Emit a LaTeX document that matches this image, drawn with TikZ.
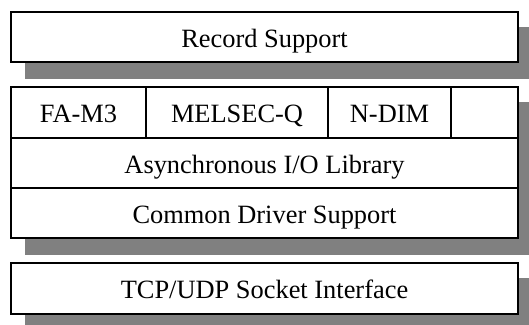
\documentclass[tikz,border=0pt]{standalone}
\usepackage{fontspec}
\setmainfont{Liberation Serif}
\usepackage{tikz}
\usetikzlibrary{calc}
\usetikzlibrary{backgrounds}
\definecolor{shadowgray}{RGB}{128,128,128}

\begin{document}
\begin{tikzpicture}[x=1pt,y=-1pt,font=\fontsize{26.4}{26.4}\selectfont,
  cell/.style={draw,line width=1.6pt,fill=white,inner sep=0pt,minimum height=50.5pt,text height=22pt,text depth=2pt},
  wide/.style={cell,minimum width=507pt},
  drop/.style={fill=shadowgray}]
\useasboundingbox (0,0) rectangle (529,324);
\path (264.5,37) node(record) [wide] {Record Support};
\path (78.5,112.5) node(fam3) [cell,minimum width=135pt] {FA-M3};
\path (237,112.5) node(melsec) [cell,minimum width=182pt] {MELSEC-Q};
\path (389.5,112.5) node(ndim) [cell,minimum width=123pt] {N-DIM};
\path (484.5,112.5) node(spare) [cell,minimum width=67pt] {};
\path (264.5,163) node(asyncio) [wide] {Asynchronous I/O Library};
\path (264.5,213) node(common) [wide] {Common Driver Support};
\path (264.5,288.5) node(socket) [wide] {TCP/UDP Socket Interface};
% shadows behind the layers
\begin{scope}[on background layer]
\fill[drop] ($(record.north west)+(15,16)$) rectangle ($(record.south east)+(15,16)$);
\fill[drop] ($(fam3.north west)+(15,16)$) rectangle ($(common.south east)+(15,16)$);
\fill[drop] ($(socket.north west)+(15,16)$) rectangle ($(socket.south east)+(15,16)$);
\end{scope}
\end{tikzpicture}
\end{document}
